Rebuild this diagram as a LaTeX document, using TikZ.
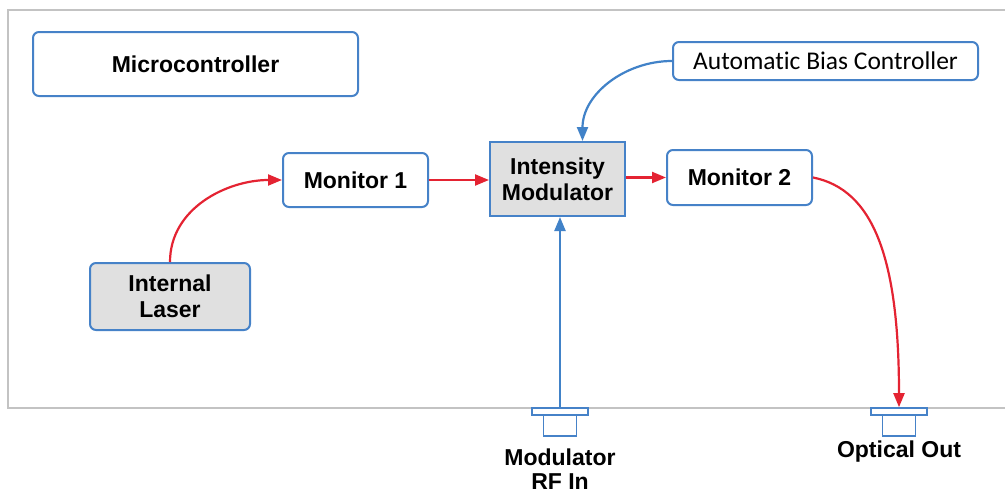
\documentclass[tikz,border=0pt]{standalone}
\usepackage{fontspec}
\setmainfont{Liberation Sans}
\newfontfamily\calib[Ligatures={NoCommon}]{Carlito}
\usetikzlibrary{arrows.meta}
\definecolor{boxblue}{RGB}{70,130,200}
\definecolor{arrred}{RGB}{228,35,50}
\definecolor{arrblue}{RGB}{65,130,200}
\definecolor{fillgray}{RGB}{224,224,224}
\definecolor{framegray}{RGB}{195,195,195}
\begin{document}
\begin{tikzpicture}[x=1pt,y=-1pt,
  box/.style={draw=boxblue,line width=2pt,rounded corners=6pt,fill=white,inner sep=0pt,
    font=\fontsize{23}{26}\selectfont\bfseries,align=center},
  graybox/.style={box,fill=fillgray},
  redarr/.style={draw=arrred,line width=2.2pt,-{Triangle[length=14pt,width=11pt]}},
  bluearr/.style={draw=arrblue,line width=2.2pt,-{Triangle[length=14pt,width=11pt]}},
  flange/.style={draw=boxblue,line width=1.6pt,fill=white,inner sep=0pt,minimum width=56pt,minimum height=7pt},
  plug/.style={draw=boxblue,line width=1.6pt,fill=white,inner sep=0pt,minimum width=33pt,minimum height=22pt},
  lbl/.style={font=\fontsize{23}{24}\selectfont\bfseries,align=center,inner sep=0pt}]
\useasboundingbox (0,0) rectangle (1005,493);
\draw[framegray,line width=1.2pt] (1005,10) -- (8,10) -- (8,408) -- (1005,408);

\node[box,minimum width=325pt,minimum height=64pt] (micro) at (195.5,64) {Microcontroller};
\node[box,minimum width=305pt,minimum height=38pt,font=\calib\fontsize{25.5}{28}\selectfont] (abc) at (825.5,61) {Automatic Bias Controller};
\node[box,minimum width=145pt,minimum height=54pt] (mon1) at (355.5,180) {Monitor 1};
\node[graybox,rounded corners=0pt,minimum width=135pt,minimum height=74pt] (im) at (557.5,179) {Intensity\\Modulator};
\node[box,minimum width=145pt,minimum height=55pt] (mon2) at (739.5,177.5) {Monitor 2};
\node[graybox,minimum width=160pt,minimum height=67pt] (laser) at (170,296.5) {Internal\\Laser};

\node[plug] (rfplug) at (560,425) {};
\node[flange] (rfflange) at (560,411.5) {};
\node[plug] (optplug) at (899,425) {};
\node[flange] (optflange) at (899,411.5) {};
\node[lbl] (rflbl) at (560,469) {Modulator\\RF In};
\node[lbl] (optlbl) at (899,452) {Optical Out};

\draw[redarr] (laser.north) to[out=90,in=180] (mon1.west);
\draw[redarr] (mon1.east) -- (mon1.east -| im.west);
\draw[redarr] (im.east |- mon2.west) -- (mon2.west);
\draw[redarr] (mon2.east) .. controls +(60,12) and +(0,-150) .. (optflange.north);
\draw[bluearr] (abc.west) to[out=180,in=90] ([xshift=25pt]im.north);
\draw[bluearr] (rfflange.north) -- (rfflange.north |- im.south);
\end{tikzpicture}
\end{document}
